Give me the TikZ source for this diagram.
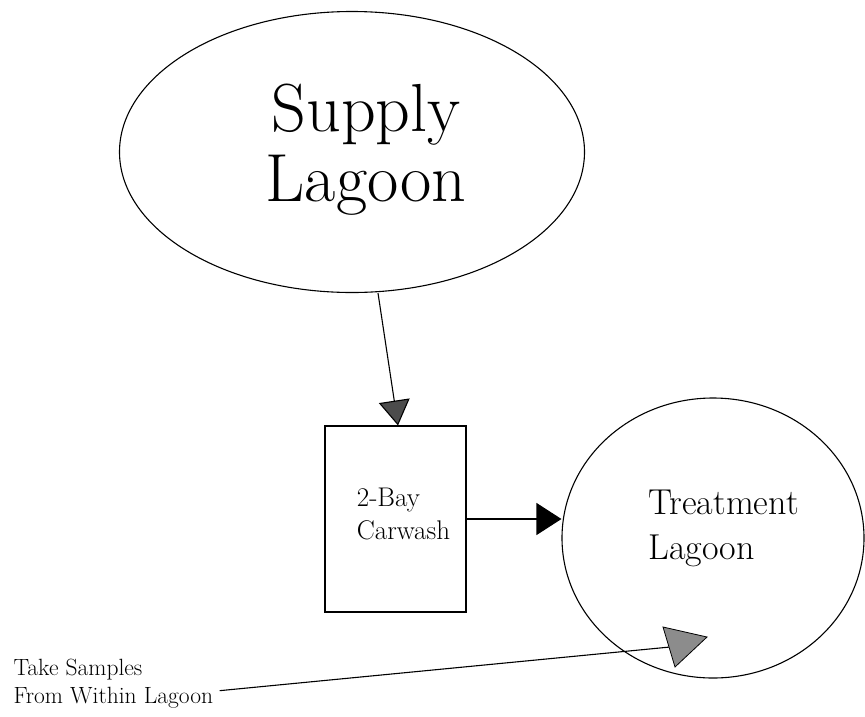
\documentclass[tikz,border=0pt]{standalone}
\usepackage{tikz}
\usetikzlibrary{shapes.geometric, arrows.meta}

\begin{document}
\begin{tikzpicture}[x = 1pt, y = -1pt, line width = 1.1pt,
lagoon/.style = {draw, ellipse, inner sep = 0pt},
washbox/.style = {draw, rectangle, inner sep = 0pt},
lbl/.style = {inner sep = 0pt, align = left}]
\useasboundingbox (0, 0) rectangle (865, 716);

\node[lagoon, minimum width = 465pt, minimum height = 281pt] (supply) at (352, 152) {};
\node[lbl, align = center, font = \fontsize{68}{70}\selectfont] (supplylbl)
		at (366, 150) {Supply\\Lagoon};

\node[washbox, minimum width = 141pt, minimum height = 186pt] (wash) at (395.5, 519) {};
\node[lbl, font = \fontsize{27}{33}\selectfont] (washlbl) at (403.5, 514) {2-Bay\\Carwash};

\node[lagoon, minimum width = 302pt, minimum height = 280pt] (treat) at (713, 538) {};
\node[lbl, font = \fontsize{36}{45}\selectfont] (treatlbl) at (723.5, 528.5) {Treatment\\Lagoon};

\node[lbl, anchor = north west, font = \fontsize{23.5}{28}\selectfont] (samples)
		at (13, 659) {Take Samples\\From Within Lagoon};
\coordinate (spot) at (670, 647);

\draw[-{Triangle[length = 25pt, width = 31pt, fill = black!70]}]
		([xshift = 26pt]supply.south) -- ([xshift = 2.5pt]wash.north);
\draw[-{Triangle[length = 25pt, width = 32pt]}] (wash.east) -- (wash.east -| treat.west);
\draw ([shift = {(6, 6.5)}]samples.east) -- (spot);

% sample arrowhead, turned down
\filldraw[fill = black!45, line width = 0.8pt] (663, 627) -- (707, 637) -- (675, 667) -- cycle;
\end{tikzpicture}
\end{document}
